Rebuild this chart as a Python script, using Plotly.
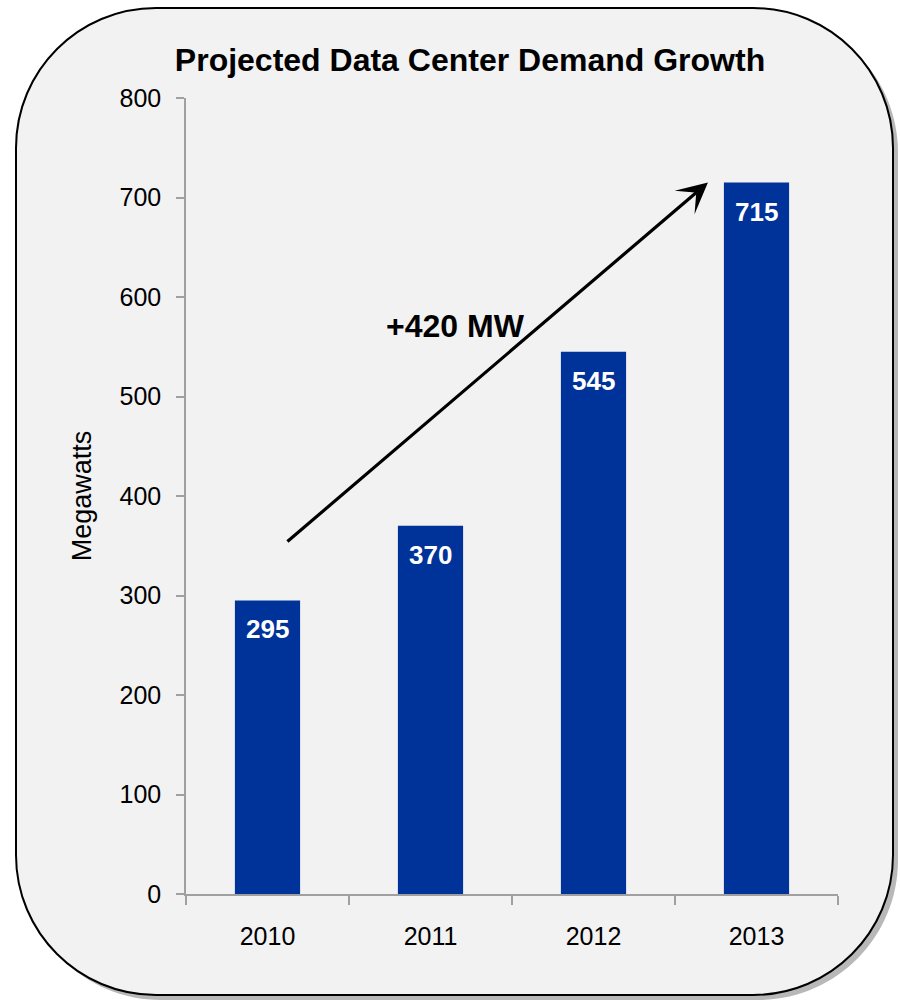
import plotly.graph_objs as go

years = ['2010', '2011', '2012', '2013']
megawatts = [295, 370, 545, 715]
y_ticks = [0, 100, 200, 300, 400, 500, 600, 700, 800]

title = 'Projected Data Center Demand Growth'
y_title = 'Megawatts'
growth_label = '+{} MW'.format(megawatts[-1] - megawatts[0])

W, H = 900, 1002
L, R, T, B = 186, 62, 98, 108
PW, PH = W - L - R, H - T - B


def to_paper(px, py):
    return (px - L) / PW, (H - B - py) / PH


def rounded_rect(x0, y0, x1, y1, r):
    k = 0.5523 * r
    pts = [
        ('M', [(x0 + r, y0)]),
        ('L', [(x1 - r, y0)]),
        ('C', [(x1 - r + k, y0), (x1, y0 + r - k), (x1, y0 + r)]),
        ('L', [(x1, y1 - r)]),
        ('C', [(x1, y1 - r + k), (x1 - r + k, y1), (x1 - r, y1)]),
        ('L', [(x0 + r, y1)]),
        ('C', [(x0 + r - k, y1), (x0, y1 - r + k), (x0, y1 - r)]),
        ('L', [(x0, y0 + r)]),
        ('C', [(x0, y0 + r - k), (x0 + r - k, y0), (x0 + r, y0)]),
    ]
    out = ''
    for cmd, ps in pts:
        out += cmd + ' '.join('{:.5f},{:.5f}'.format(*to_paper(px, py)) for px, py in ps)
    return out + 'Z'


font = 'Arial, Liberation Sans, sans-serif'

data = [go.Bar(x=years, y=megawatts, width=0.4, marker={'color': '#003399', 'line': {'width': 0}},
               hoverinfo='skip')]

annotations = []
for i, v in enumerate(megawatts):
    annotations.append(dict(x=i, y=v, xref='x', yref='y', text='<b>{}</b>'.format(v), showarrow=False,
                            yanchor='middle', yshift=-29, font=dict(family=font, size=26, color='white')))

# growth arrow
annotations.append(dict(x=2.702, y=715, ax=0.113, ay=353, xref='x', yref='y', axref='x', ayref='y',
                        text='', showarrow=True, arrowhead=3, arrowsize=1.6, arrowwidth=3.2,
                        arrowcolor='black'))
annotations.append(dict(x=1.156, y=571, xref='x', yref='y', text='<b>' + growth_label + '</b>',
                        showarrow=False, font=dict(family=font, size=32, color='black')))

shapes = [
    dict(type='path', xref='paper', yref='paper', layer='below', path=rounded_rect(21, 13, 898, 1000, 140),
         fillcolor='#b8b8b8', line=dict(width=0)),
    dict(type='path', xref='paper', yref='paper', layer='below', path=rounded_rect(16, 8, 893, 995, 140),
         fillcolor='#f2f2f2', line=dict(color='black', width=2)),
]

layout = go.Layout(
    width=W, height=H, margin=dict(l=L, r=R, t=T, b=B, autoexpand=False),
    paper_bgcolor='white', plot_bgcolor='rgba(0,0,0,0)', showlegend=False,
    font=dict(family=font, color='black'),
    title=dict(text='<b>' + title + '</b>', x=470 / W, xref='container', xanchor='center',
               y=1 - 60 / H, yref='container', yanchor='middle', font=dict(size=32, color='black')),
    xaxis=dict(type='category', showline=True, linecolor='#a0a0a0', linewidth=1.5, ticks='outside',
               tickson='boundaries', ticklen=9, tickcolor='#a0a0a0', tickwidth=1.5, showgrid=False,
               tickfont=dict(size=25), ticklabelstandoff=19, range=[-0.5, 3.5]),
    yaxis=dict(range=[0, 800], tickvals=y_ticks, showline=True, linecolor='#a0a0a0', linewidth=1.5,
               ticks='outside', ticklen=8, tickcolor='#a0a0a0', tickwidth=1.5, showgrid=False,
               zeroline=False, tickfont=dict(size=25), ticklabelstandoff=10,
               title=dict(text=y_title, font=dict(size=27), standoff=20)),
    annotations=annotations, shapes=shapes, bargap=0.6,
)

fig = go.Figure(data=data, layout=layout)
fig.write_html('out.html', config={'displayModeBar': False}, post_script="document.body.style.margin='0';")
